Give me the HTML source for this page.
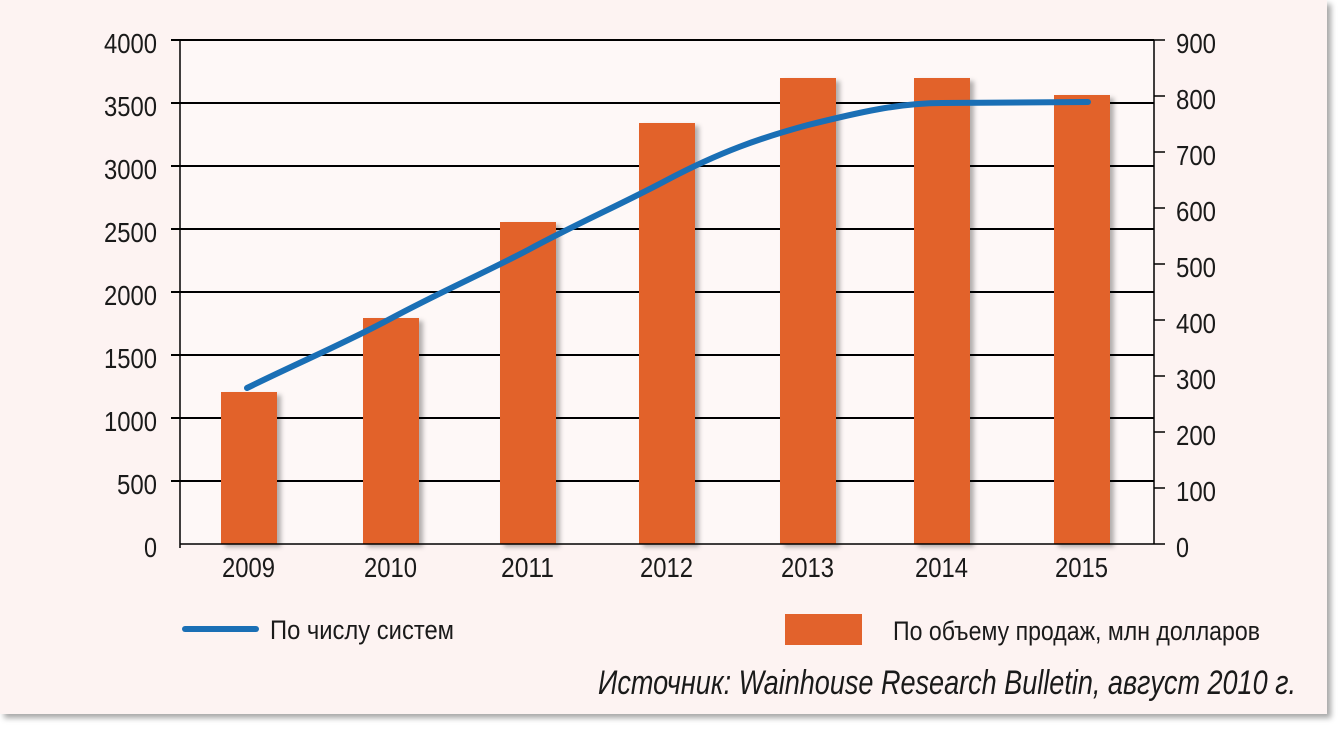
<!DOCTYPE html>
<html><head><meta charset="utf-8"><style>
body{margin:0;background:#fff;width:1342px;height:732px;overflow:hidden}
svg{display:block}
text{font-family:"Liberation Sans Narrow","Liberation Sans",sans-serif;fill:#1a1a1a}
</style></head><body>
<svg width="1342" height="732" viewBox="0 0 1342 732">
<defs>
<filter id="sh" x="-10%" y="-10%" width="130%" height="130%"><feDropShadow dx="4" dy="4" stdDeviation="3" flood-color="#000" flood-opacity="0.35"/></filter>
<filter id="bs" x="-20%" y="-5%" width="150%" height="115%"><feDropShadow dx="4" dy="3" stdDeviation="2.5" flood-color="#000" flood-opacity="0.3"/></filter>
</defs>
<rect x="0" y="0" width="1327" height="714" fill="#fdf3f2" filter="url(#sh)"/>
<rect x="180" y="40" width="974" height="504" fill="#fef8f7"/>
<g stroke="#000" stroke-width="2">
<line x1="171" y1="40" x2="1154" y2="40"/>
<line x1="171" y1="103" x2="1154" y2="103"/>
<line x1="171" y1="166" x2="1154" y2="166"/>
<line x1="171" y1="229" x2="1154" y2="229"/>
<line x1="171" y1="292" x2="1154" y2="292"/>
<line x1="171" y1="355" x2="1154" y2="355"/>
<line x1="171" y1="418" x2="1154" y2="418"/>
<line x1="171" y1="481" x2="1154" y2="481"/>
</g>
<g stroke="#000" stroke-width="1.5">
<line x1="180" y1="40" x2="180" y2="548"/>
<line x1="1154" y1="40" x2="1154" y2="544"/>
<line x1="1154" y1="40" x2="1165" y2="40"/>
<line x1="1154" y1="96" x2="1165" y2="96"/><line x1="1154" y1="152" x2="1165" y2="152"/>
<line x1="1154" y1="208" x2="1165" y2="208"/><line x1="1154" y1="264" x2="1165" y2="264"/>
<line x1="1154" y1="320" x2="1165" y2="320"/><line x1="1154" y1="376" x2="1165" y2="376"/>
<line x1="1154" y1="432" x2="1165" y2="432"/><line x1="1154" y1="488" x2="1165" y2="488"/>
</g>
<g fill="#e2622c" filter="url(#bs)">
<rect x="221" y="392" width="56" height="152"/>
<rect x="363" y="318" width="56" height="226"/>
<rect x="500" y="222" width="56" height="322"/>
<rect x="639" y="123" width="56" height="421"/>
<rect x="780" y="78" width="56" height="466"/>
<rect x="914" y="78" width="56" height="466"/>
<rect x="1054" y="95" width="56" height="449"/>
</g>
<line x1="180" y1="544" x2="1165" y2="544" stroke="#000" stroke-width="1.5"/>
<path d="M247,388 C300,362 345,343 388,320 C440,292 480,275 528,250 C580,222 620,205 667,180 C720,152 760,138 808,125 C860,112 900,103 942,103 L1088,102" fill="none" stroke="#1a6fb5" stroke-width="6" stroke-linecap="round"/>
<g font-size="28" text-anchor="end">
<text x="157" y="53" textLength="53" lengthAdjust="spacingAndGlyphs">4000</text>
<text x="157" y="116" textLength="53" lengthAdjust="spacingAndGlyphs">3500</text>
<text x="157" y="179" textLength="53" lengthAdjust="spacingAndGlyphs">3000</text>
<text x="157" y="242" textLength="53" lengthAdjust="spacingAndGlyphs">2500</text>
<text x="157" y="305" textLength="53" lengthAdjust="spacingAndGlyphs">2000</text>
<text x="157" y="368" textLength="53" lengthAdjust="spacingAndGlyphs">1500</text>
<text x="157" y="431" textLength="53" lengthAdjust="spacingAndGlyphs">1000</text>
<text x="157" y="494" textLength="40" lengthAdjust="spacingAndGlyphs">500</text>
<text x="157" y="557" textLength="13" lengthAdjust="spacingAndGlyphs">0</text>
</g>
<g font-size="28">
<text x="1176" y="53" textLength="40" lengthAdjust="spacingAndGlyphs">900</text>
<text x="1176" y="109" textLength="40" lengthAdjust="spacingAndGlyphs">800</text>
<text x="1176" y="165" textLength="40" lengthAdjust="spacingAndGlyphs">700</text>
<text x="1176" y="221" textLength="40" lengthAdjust="spacingAndGlyphs">600</text>
<text x="1176" y="277" textLength="40" lengthAdjust="spacingAndGlyphs">500</text>
<text x="1176" y="333" textLength="40" lengthAdjust="spacingAndGlyphs">400</text>
<text x="1176" y="389" textLength="40" lengthAdjust="spacingAndGlyphs">300</text>
<text x="1176" y="445" textLength="40" lengthAdjust="spacingAndGlyphs">200</text>
<text x="1176" y="501" textLength="40" lengthAdjust="spacingAndGlyphs">100</text>
<text x="1176" y="557" textLength="13" lengthAdjust="spacingAndGlyphs">0</text>
</g>
<g font-size="28">
<text x="222" y="577" textLength="53" lengthAdjust="spacingAndGlyphs">2009</text>
<text x="364" y="577" textLength="53" lengthAdjust="spacingAndGlyphs">2010</text>
<text x="501" y="577" textLength="53" lengthAdjust="spacingAndGlyphs">2011</text>
<text x="640" y="577" textLength="53" lengthAdjust="spacingAndGlyphs">2012</text>
<text x="781" y="577" textLength="53" lengthAdjust="spacingAndGlyphs">2013</text>
<text x="915" y="577" textLength="53" lengthAdjust="spacingAndGlyphs">2014</text>
<text x="1055" y="577" textLength="53" lengthAdjust="spacingAndGlyphs">2015</text>
</g>
<line x1="185" y1="629" x2="256" y2="629" stroke="#1a6fb5" stroke-width="6" stroke-linecap="round"/>
<text x="270" y="639" font-size="27" textLength="184" lengthAdjust="spacingAndGlyphs">По числу систем</text>
<rect x="785" y="614" width="77" height="31" fill="#e2622c"/>
<text x="893" y="640" font-size="27" textLength="367" lengthAdjust="spacingAndGlyphs">По объему продаж, млн долларов</text>
<text x="598" y="694" font-size="34" font-style="italic" textLength="698" lengthAdjust="spacingAndGlyphs">Источник: Wainhouse Research Bulletin, август 2010 г.</text>
</svg>
</body></html>
